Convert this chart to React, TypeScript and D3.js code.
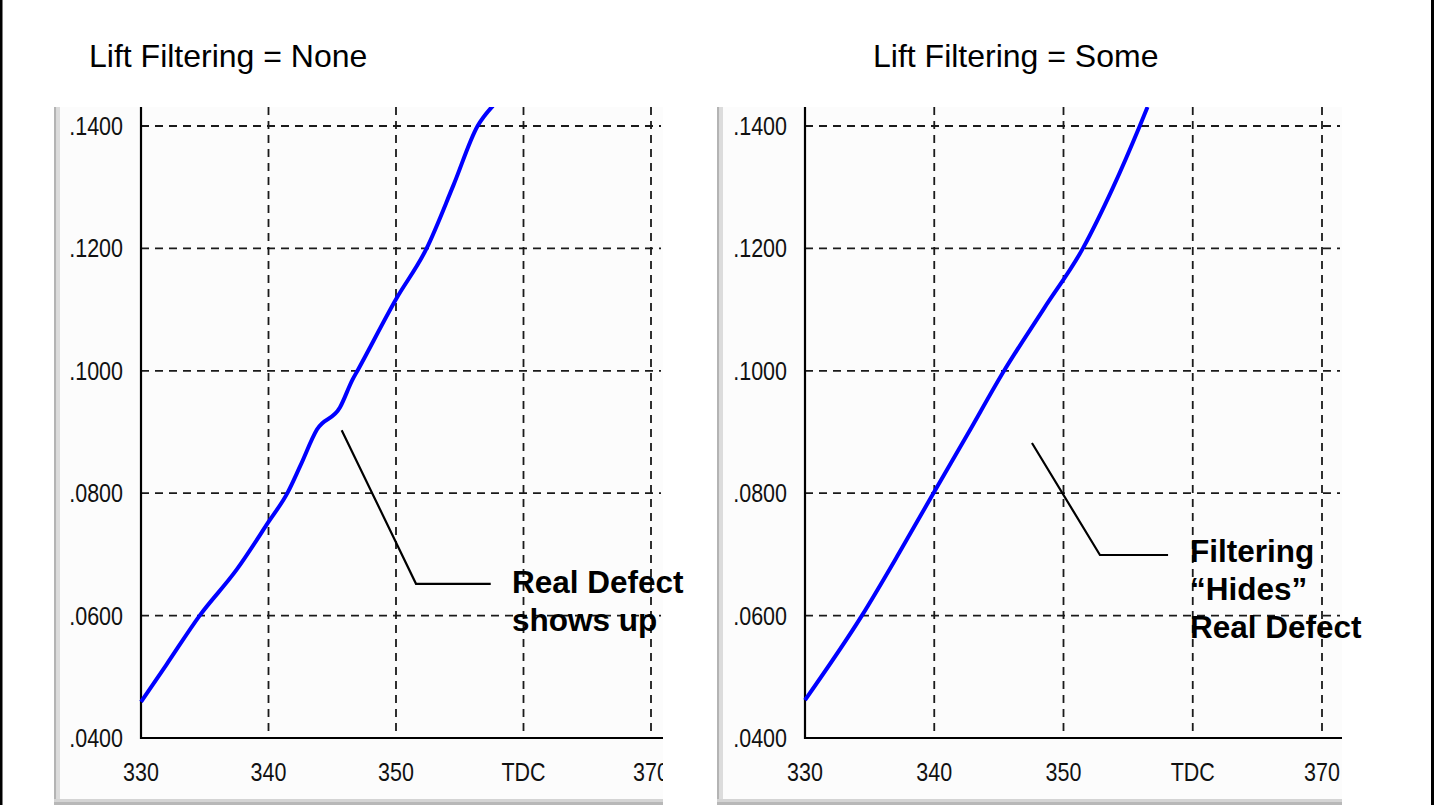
import React from "react";
import * as d3 from "d3";

const xTicks = [330, 340, 350, 360, 370];
const xTickLabels = ["330", "340", "350", "TDC", "370"];
const yTicks = [0.04, 0.06, 0.08, 0.1, 0.12, 0.14];
const yTickLabels = [".0400", ".0600", ".0800", ".1000", ".1200", ".1400"];

// Lift Filtering = None
const noneX = [330, 332, 334.6, 337.5, 340, 341.5, 342.5, 343.8, 345.6, 346.6, 347.0, 350, 352.4, 354.5, 356.4, 357.6];
const noneY = [0.0459, 0.052, 0.06, 0.0675, 0.0753, 0.0801, 0.0845, 0.0904, 0.094, 0.0986, 0.1001, 0.1117, 0.12, 0.1303, 0.14, 0.1433];

// Lift Filtering = Some
const someX = [330, 334.4, 337.3, 339.8, 342.6, 345.4, 348.5, 351.5, 353.8, 355.9, 356.5];
const someY = [0.0462, 0.06, 0.0703, 0.0795, 0.0897, 0.1, 0.1102, 0.12, 0.1298, 0.14, 0.1431];

const noneNote = ["Real Defect", "shows up"];
const someNote = ["Filtering", "\u201CHides\u201D", "Real Defect"];

type PanelProps = {
  id: string;
  title: string;
  titleX: number;
  left: number;
  right: number;
  axisX: number;
  x370: number;
  xs: number[];
  ys: number[];
  note: string[];
  notePts: [number, number][];
  noteText: [number, number];
};

const TOP = 107;
const BOTTOM_AXIS = 738;
const FONT = "Liberation Sans, Arial, sans-serif";

function Panel(p: PanelProps) {
  const x = d3.scaleLinear().domain([330, 370]).range([p.axisX, p.x370]);
  const y = d3.scaleLinear().domain([0.04, 0.14]).range([BOTTOM_AXIS, 126]);
  const pts = p.xs.map((v, i) => [v, p.ys[i]] as [number, number]);
  const line = d3
    .line<[number, number]>()
    .x((d) => x(d[0]))
    .y((d) => y(d[1]))
    .curve(d3.curveMonotoneX);
  const noteLine = d3
    .line<[number, number]>()
    .x((d) => x(d[0]))
    .y((d) => y(d[1]));
  const lineH = 38;
  return (
    <g>
      <text x={p.titleX} y={67} fontFamily={FONT} fontSize={32} fill="#000">
        {p.title}
      </text>
      <defs>
        <clipPath id={p.id}>
          <rect x={p.left} y={TOP} width={p.right - p.left} height={805 - TOP} />
        </clipPath>
      </defs>
      <g clipPath={`url(#${p.id})`}>
        <rect x={p.left} y={TOP} width={p.right - p.left} height={805 - TOP} fill="#fcfcfc" />
        <rect x={p.left} y={TOP} width={2.5} height={805 - TOP} fill="#b4b4b4" />
        <rect x={p.left + 2.5} y={TOP} width={3.5} height={805 - TOP} fill="#dcdcdc" />
        <rect x={p.left} y={799} width={p.right - p.left} height={3} fill="#d4d4d4" />
        <rect x={p.left} y={802} width={p.right - p.left} height={3} fill="#b8b8b8" />
        {yTicks.slice(1).map((t) => (
          <line
            key={"h" + t}
            x1={p.axisX}
            x2={p.right - 2}
            y1={y(t)}
            y2={y(t)}
            stroke="#1a1a1a"
            strokeWidth={1.8}
            strokeDasharray="8,6"
          />
        ))}
        {xTicks.slice(1).map((t) => (
          <line
            key={"v" + t}
            x1={x(t)}
            x2={x(t)}
            y1={TOP}
            y2={BOTTOM_AXIS}
            stroke="#1a1a1a"
            strokeWidth={1.8}
            strokeDasharray="8,6"
          />
        ))}
        <line x1={p.axisX} x2={p.axisX} y1={TOP} y2={BOTTOM_AXIS + 1} stroke="#000" strokeWidth={2.2} />
        <line x1={p.axisX} x2={p.right} y1={BOTTOM_AXIS} y2={BOTTOM_AXIS} stroke="#000" strokeWidth={2.2} />
        {yTicks.map((t, i) => (
          <text
            key={"yl" + t}
            transform={`translate(${p.axisX - 18},${y(t) + 9}) scale(0.86,1)`}
            textAnchor="end"
            fontFamily={FONT}
            fontSize={25}
            fill="#111"
          >
            {yTickLabels[i]}
          </text>
        ))}
        {xTicks.map((t, i) => (
          <text
            key={"xl" + t}
            transform={`translate(${x(t)},781) scale(0.86,1)`}
            textAnchor="middle"
            fontFamily={FONT}
            fontSize={25}
            fill="#111"
          >
            {xTickLabels[i]}
          </text>
        ))}
        <path d={line(pts) || ""} fill="none" stroke="#0000ff" strokeWidth={4} strokeLinejoin="round" />
      </g>
      <path d={noteLine(p.notePts) || ""} fill="none" stroke="#000" strokeWidth={2.2} />
      {p.note.map((s, i) => (
        <text
          key={"n" + i}
          x={x(p.noteText[0])}
          y={y(p.noteText[1]) + i * lineH}
          fontFamily={FONT}
          fontWeight="bold"
          fontSize={31.5}
          fill="#000"
        >
          {s}
        </text>
      ))}
    </g>
  );
}

export default function App() {
  return (
    <svg
      width={1439}
      height={805}
      style={{ position: "absolute", left: 0, top: 0, background: "#fff" }}
    >
      <rect x={0} y={0} width={1439} height={805} fill="#fff" />
      <Panel
        id="clipL"
        title="Lift Filtering = None"
        titleX={89}
        left={54}
        right={663}
        axisX={141}
        x370={651}
        xs={noneX}
        ys={noneY}
        note={noneNote}
        notePts={[
          [345.74, 0.0903],
          [351.57, 0.0652],
          [357.43, 0.0652],
        ]}
        noteText={[359.1, 0.0637]}
      />
      <Panel
        id="clipR"
        title="Lift Filtering = Some"
        titleX={873}
        left={717}
        right={1342}
        axisX={805}
        x370={1322}
        xs={someX}
        ys={someY}
        note={someNote}
        notePts={[
          [347.56, 0.0882],
          [352.82, 0.0699],
          [358.09, 0.0699],
        ]}
        noteText={[359.79, 0.0688]}
      />
      <rect x={0} y={0} width={2.5} height={805} fill="#000" />
      <rect x={1431} y={0} width={3} height={805} fill="#000" />
    </svg>
  );
}
